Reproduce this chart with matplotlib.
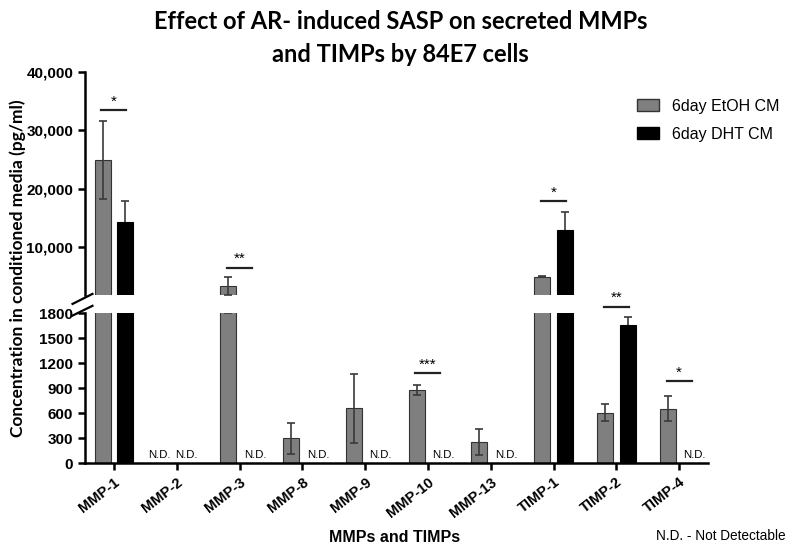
import numpy as np
import matplotlib
matplotlib.use("Agg")
import matplotlib.pyplot as plt
from matplotlib.ticker import FuncFormatter
from matplotlib.patches import Patch

# data
groups = ['MMP-1', 'MMP-2', 'MMP-3', 'MMP-8', 'MMP-9', 'MMP-10', 'MMP-13', 'TIMP-1', 'TIMP-2', 'TIMP-4']
nan = np.nan
etoh = [24900, nan, 3350, 300, 660, 880, 256, 4950, 606, 656]
etoh_err = [6600, nan, 1550, 184, 414, 55, 152, 150, 102, 152]
dht = [14250, nan, nan, nan, nan, nan, nan, 12900, 1656, nan]
dht_err = [3600, nan, nan, nan, nan, nan, nan, 3050, 100, nan]
# (group, bar height, label)
signif = [(0, 33500, '*'), (2, 6500, '**'), (7, 17900, '*'),
          (5, 1080, '***'), (8, 1880, '**'), (9, 990, '*')]
nd_etoh = [1]
nd_dht = [1, 2, 3, 4, 5, 6, 9]

BREAK = 1800

plt.rcParams['font.family'] = ['Liberation Sans', 'DejaVu Sans']

fig = plt.figure(figsize=(7.9, 5.45), dpi=100)
ax_top = fig.add_axes([0.1076, 0.4587, 0.7884, 0.4097])
ax_bot = fig.add_axes([0.1076, 0.1499, 0.7884, 0.2752])

x = np.arange(len(groups))
w = 0.257
off = 0.18
gray = '#7f7f7f'


def only_above(vals, errs, lim):
    # keep error bars out of the upper panel when they sit wholly below it
    v = np.array(vals, dtype=float)
    e = np.array(errs, dtype=float)
    v[~(v + e > lim)] = nan
    return v, e


for ax in (ax_top, ax_bot):
    ax.bar(x - off, etoh, w, color=gray, edgecolor='#333333', linewidth=0.8, zorder=2)
    ax.bar(x + off, dht, w, color='black', edgecolor='black', linewidth=0.8, zorder=2)
    if ax is ax_top:
        ev, ee = only_above(etoh, etoh_err, BREAK)
        dv, de = only_above(dht, dht_err, BREAK)
    else:
        ev, ee, dv, de = etoh, etoh_err, dht, dht_err
    ax.errorbar(x - off, ev, yerr=ee, fmt='none', ecolor='#3a3a3a',
                elinewidth=1.2, capsize=3, capthick=1.2, zorder=3)
    ax.errorbar(x + off, dv, yerr=de, fmt='none', ecolor='#3a3a3a',
                elinewidth=1.2, capsize=3, capthick=1.2, zorder=1)
    ax.set_xlim(-0.46, 9.457)
    for s in ('top', 'right'):
        ax.spines[s].set_visible(False)
    ax.spines['left'].set_linewidth(1.8)
    ax.tick_params(axis='y', direction='out', length=5, width=1.8, labelsize=11)

ax_top.set_ylim(BREAK, 40000)
ax_top.set_yticks([10000, 20000, 30000, 40000])
ax_top.yaxis.set_major_formatter(FuncFormatter(lambda v, p: f'{int(v):,}'))
ax_top.spines['bottom'].set_visible(False)
ax_top.set_xticks([])

ax_bot.set_ylim(0, BREAK)
ax_bot.set_yticks(range(0, 1801, 300))
ax_bot.spines['bottom'].set_linewidth(1.8)
ax_bot.set_xticks(x)
ax_bot.set_xticklabels(groups, rotation=38, ha='right', rotation_mode='anchor',
                       fontsize=10.5, fontweight='bold')
ax_bot.tick_params(axis='x', direction='out', length=5, width=1.8)

for ax in (ax_top, ax_bot):
    for lab in ax.get_yticklabels():
        lab.set_fontweight('bold')

# break marks on the y axis
kw = dict(color='black', lw=1.6, clip_on=False)
ax_top.plot([-0.02, 0.012], [-0.04, 0.005], transform=ax_top.transAxes, **kw)
ax_bot.plot([-0.02, 0.012], [0.985, 1.05], transform=ax_bot.transAxes, **kw)

# significance bars
for g, y, lab in signif:
    ax = ax_top if y > 2500 else ax_bot
    ax.plot([g - 0.2, g + 0.2], [y, y], color='#222222', lw=1.6, clip_on=False)
    ax.annotate(lab, (g, y), xytext=(0, 1), textcoords='offset points',
                ha='center', va='bottom', fontsize=11, annotation_clip=False)

# not detectable labels
for g in nd_etoh:
    ax_bot.text(g - 0.27, 40, 'N.D.', ha='center', va='bottom', fontsize=8.2)
for g in nd_dht:
    dx = 0.16 if g in nd_etoh else 0.25
    ax_bot.text(g + dx, 40, 'N.D.', ha='center', va='bottom', fontsize=8.2)

fig.text(0.507, 0.930, 'Effect of AR- induced SASP on secreted MMPs\nand TIMPs by 84E7 cells',
         ha='center', va='center', fontsize=17, fontweight='bold', family='Lato',
         linespacing=1.5)
fig.text(0.023, 0.508, 'Concentration in conditioned media (pg/ml)', rotation=90,
         ha='center', va='center', fontsize=12.5, fontweight='bold', family='Lato')
fig.text(0.5, 0.0, 'MMPs and TIMPs', ha='center', va='bottom', fontsize=11.5,
         fontweight='bold')
fig.text(0.995, 0.004, 'N.D. - Not Detectable', ha='right', va='bottom', fontsize=9.8)

handles = [Patch(facecolor=gray, edgecolor='#333333', label='6day EtOH CM'),
           Patch(facecolor='black', edgecolor='black', label='6day DHT CM')]
fig.legend(handles=handles, loc='upper left', bbox_to_anchor=(0.788, 0.845),
           frameon=False, fontsize=11.5, handlelength=1.4, handleheight=0.8,
           labelspacing=0.8, handletextpad=0.8)

fig.savefig('out.png', dpi=100)
